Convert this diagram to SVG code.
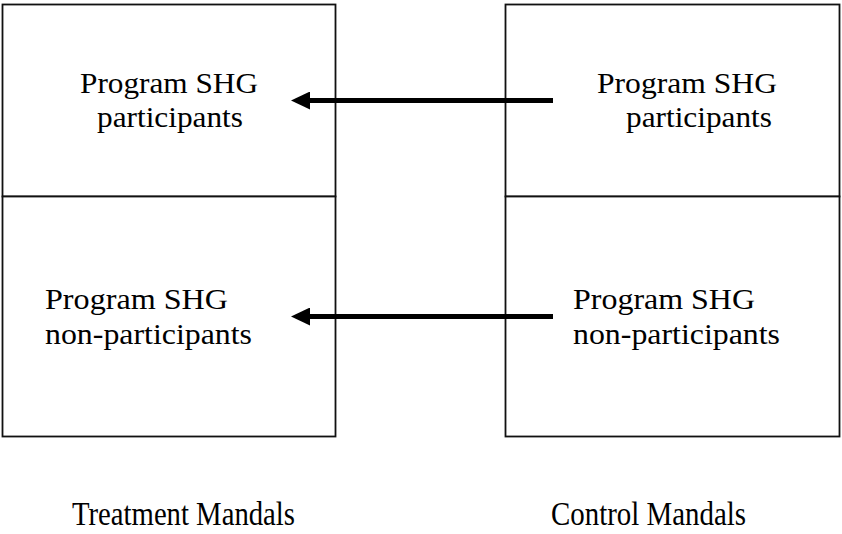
<svg xmlns="http://www.w3.org/2000/svg" width="842" height="534" viewBox="0 0 842 534">
<defs>
<style>
.box{fill:#fff;stroke:#111;stroke-width:1.8}
.t{font-family:"Liberation Serif","Times New Roman",serif;font-size:30px;fill:#000}
.lab{font-size:33px}
.c{stroke:#000;stroke-width:5;fill:none}
</style>
<marker id="ah" markerUnits="userSpaceOnUse" markerWidth="20" markerHeight="18" refX="1" refY="9" orient="auto" viewBox="0 0 20 18">
<path d="M0,0 L19,9 L0,18 Z" fill="#000"/>
</marker>
</defs>
<rect width="842" height="534" fill="#fff"/>
<g id="treat-part">
<rect class="box" x="2.5" y="4.5" width="333" height="192"/>
<text class="t" x="80" y="93" textLength="178" lengthAdjust="spacingAndGlyphs">Program SHG</text>
<text class="t" x="97" y="127" textLength="146" lengthAdjust="spacingAndGlyphs">participants</text>
</g>
<g id="treat-nonpart">
<rect class="box" x="2.5" y="196.5" width="333" height="240"/>
<text class="t" x="45" y="309" textLength="183" lengthAdjust="spacingAndGlyphs">Program SHG</text>
<text class="t" x="45" y="344" textLength="207" lengthAdjust="spacingAndGlyphs">non-participants</text>
</g>
<g id="ctrl-part">
<rect class="box" x="505.5" y="4.5" width="334" height="192"/>
<text class="t" x="597" y="93" textLength="180" lengthAdjust="spacingAndGlyphs">Program SHG</text>
<text class="t" x="626" y="127" textLength="146" lengthAdjust="spacingAndGlyphs">participants</text>
</g>
<g id="ctrl-nonpart">
<rect class="box" x="505.5" y="196.5" width="334" height="240"/>
<text class="t" x="573" y="309" textLength="182" lengthAdjust="spacingAndGlyphs">Program SHG</text>
<text class="t" x="573" y="344" textLength="207" lengthAdjust="spacingAndGlyphs">non-participants</text>
</g>
<g id="labels">
<text class="t lab" x="72" y="525" textLength="223" lengthAdjust="spacingAndGlyphs">Treatment Mandals</text>
<text class="t lab" x="551" y="525" textLength="195" lengthAdjust="spacingAndGlyphs">Control Mandals</text>
</g>
<g id="connectors">
<line class="c" x1="553" y1="100.5" x2="309" y2="100.5" marker-end="url(#ah)"/>
<line class="c" x1="553" y1="316.5" x2="309" y2="316.5" marker-end="url(#ah)"/>
</g>
</svg>
